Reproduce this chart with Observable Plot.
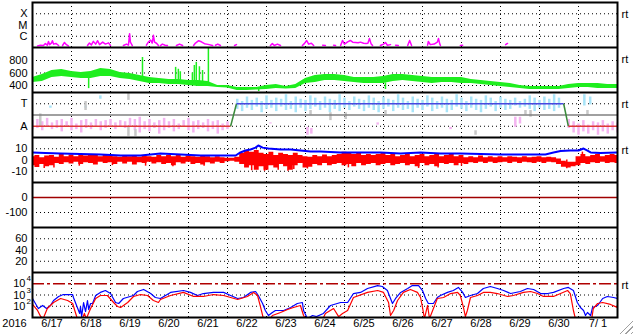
<!DOCTYPE html>
<html><head><meta charset="utf-8">
<script src="https://cdn.jsdelivr.net/npm/d3@7"></script>
<script src="https://cdn.jsdelivr.net/npm/@observablehq/plot@0.6"></script>
<style>
body{margin:0;background:#fff;}
#chart{position:relative;width:633px;height:334px;overflow:hidden;background:#fff;}
#chart svg{display:block;}
#grip{position:absolute;right:0;bottom:0;width:14px;height:14px;background:repeating-linear-gradient(135deg,transparent 0 2px,#a0a0a0 2px 3px,transparent 3px 4px);clip-path:polygon(100% 0,100% 100%,0 100%);}
</style></head><body><div id="chart"><div id="grip"></div></div>
<script>
// ---- time axis (days since 2016-06-17 00:00 UT) ----
const dayTickLabels = ["6/17","6/18","6/19","6/20","6/21","6/22","6/23","6/24","6/25","6/26","6/27","6/28","6/29","6/30","7/ 1"];
const yearLabel = "2016";
const gridDays = [1,2,3,4,5,6,7,8,9,10,11,12,13,14];

// ---- panel 1: X-ray flux (W/m2), segments with data gaps ----
const xrayLabels = [[1e-4,"X"],[1e-5,"M"],[1e-6,"C"]];
const xraySegments = [
 [[0.13,1.4e-7],[0.2,1.6e-7],[0.28,1.5e-7],[0.33,2.2e-7],[0.38,1.6e-7],[0.41,3.4e-7],[0.44,1.8e-7],[0.49,2.6e-7],[0.51,4e-7],[0.54,2e-7],[0.6,2.3e-7],[0.67,1.5e-7]],
 [[0.77,1.5e-7],[0.82,2.8e-7],[0.87,1.8e-7],[0.92,1.4e-7]],
 [[1.41,1.5e-7],[1.46,2.5e-7],[1.51,1.7e-7],[1.56,3.5e-7],[1.62,2e-7],[1.67,4e-7],[1.72,1.8e-7],[1.8,3e-7],[1.87,2e-7],[1.95,2.6e-7],[2.0,1.5e-7]],
 [[2.33,1.5e-7],[2.41,2e-7],[2.46,1.6e-7],[2.49,1.7e-6],[2.51,3e-7],[2.56,1.5e-7]],
 [[2.92,1.6e-7],[2.97,3e-7],[3.03,4.5e-7],[3.07,2.5e-7],[3.1,1.2e-6],[3.13,3e-7],[3.18,2.4e-7],[3.23,1.5e-7]],
 [[3.28,1.5e-7],[3.33,2e-7],[3.4,1.6e-7],[3.46,1.5e-7]],
 [[3.69,1.5e-7],[3.77,2e-7],[3.85,1.5e-7]],
 [[4.13,1.5e-7],[4.18,2.5e-7],[4.26,4e-7],[4.33,3.2e-7],[4.41,2.2e-7],[4.5,1.9e-7],[4.62,1.5e-7]],
 [[4.69,1.6e-7],[4.75,2e-7],[4.82,1.5e-7]],
 [[5.18,1.5e-7],[5.23,1.8e-7]],
 [[6.1,1.5e-7],[6.15,2.2e-7],[6.2,1.5e-7],[6.28,2e-7],[6.36,1.5e-7]],
 [[6.92,1.5e-7],[6.97,2.2e-7],[7.03,4.2e-7],[7.08,2e-7],[7.15,2.4e-7],[7.21,1.5e-7]],
 [[7.44,1.6e-7],[7.51,1.5e-7]],
 [[7.72,1.6e-7],[7.77,1.5e-7]],
 [[7.9,1.5e-7],[7.95,4.2e-7],[8.0,2e-7],[8.08,3.2e-7],[8.15,4.2e-7],[8.21,3e-7],[8.28,2.8e-7],[8.35,2.6e-7],[8.41,3e-7],[8.49,2.4e-7],[8.55,2.3e-7],[8.6,2.4e-7],[8.64,6.3e-7],[8.68,2.2e-7],[8.72,1.5e-7]],
 [[8.92,1.5e-7],[9.0,2e-7],[9.05,2.8e-7],[9.1,1.6e-7],[9.18,1.8e-7]],
 [[9.31,1.6e-7],[9.38,1.5e-7]],
 [[9.62,1.5e-7],[9.67,4.2e-7],[9.72,1.5e-7]],
 [[10.13,1.6e-7],[10.15,3.4e-7],[10.2,1.8e-7],[10.3,2e-7],[10.38,3e-7],[10.41,6.3e-7],[10.44,2.2e-7],[10.46,1.5e-7]],
 [[10.97,1.5e-7],[11.03,1.6e-7]],
 [[12.13,1.8e-7],[12.18,2.3e-7]]
];

// ---- panel 2: solar wind speed (km/s): band [day, low, high] and spikes [day, from, to] ----
const speedLabels = [[800,"800"],[600,"600"],[400,"400"]];
const speedBand = [[0,448,528],[0.25,464,576],[0.5,528,640],[0.75,544,656],[1,528,624],[1.25,512,608],[1.5,512,624],[1.75,544,672],[2,544,656],[2.25,512,608],[2.5,496,592],[2.75,464,560],[3,432,528],[3.25,432,512],[3.5,416,496],[3.75,416,496],[4,400,480],[4.25,384,480],[4.5,384,464],[4.75,368,400],[5,360,400],[5.25,320,368],[5.5,320,368],[5.75,328,368],[6,336,400],[6.25,352,416],[6.5,344,384],[6.75,352,416],[7,432,512],[7.25,448,560],[7.5,480,576],[7.75,480,576],[8,464,560],[8.25,448,528],[8.5,432,528],[8.75,432,528],[9,432,544],[9.25,464,576],[9.5,480,576],[9.75,464,560],[10,448,544],[10.25,432,528],[10.5,448,528],[10.75,448,528],[11,432,528],[11.25,432,496],[11.5,416,480],[11.75,400,464],[12,384,448],[12.25,368,432],[12.5,352,400],[12.75,336,384],[13,336,384],[13.25,336,384],[13.5,336,384],[13.75,352,416],[14,368,432],[14.25,368,432],[14.5,352,432],[14.75,352,416],[15,352,416]];
const speedSpikes = [[1.44,560,350],[2.82,520,848],[3.67,460,690],[3.74,450,660],[3.79,450,620],[4.10,440,600],[4.15,440,720],[4.2,430,770],[4.28,430,700],[4.36,420,640],[4.51,420,992],[5.8,340,304],[9.05,440,336]];

// ---- panel 3: IMF sector (T = +1, A = -1) ----
const sectorLabels = [[1,"T"],[-1,"A"]];
const sectorTimes = [0, 5.08, 5.23, 13.62, 13.74, 15];
const sectorValues = [-1, -1, 1, 1, -1, -1];
const pinkTicks = [[0,-1.3,-0.5],[0.125,-1.2,-0.4],[0.25,-1.4,-0.6],[0.375,-1.1,-0.3],[0.5,-1.3,-0.7],[0.625,-1.2,-0.5],[0.75,-1.5,-0.4],[0.875,-1.1,-0.6],[1,-1.4,-0.3],[1.125,-1.3,-0.8],[1.25,-1.6,-0.5],[1.375,-1.2,-0.4],[1.5,-1.3,-0.7],[1.625,-1.1,-0.4],[1.75,-1.4,-0.6],[1.875,-1.2,-0.5],[2,-1.0,-0.4],[2.125,-1.3,-0.7],[2.25,-1.1,-0.5],[2.375,-1.2,-0.6],[2.5,-1.0,-0.3],[2.625,-1.4,-0.4],[2.75,-1.6,-0.2],[2.875,-1.3,-0.6],[3,-1.5,-0.4],[3.125,-1.2,-0.7],[3.25,-1.7,-0.5],[3.375,-1.4,-0.3],[3.5,-1.2,-0.6],[3.625,-1.5,-0.4],[3.75,-1.3,-0.8],[3.875,-1.1,-0.5],[4,-1.4,-0.3],[4.125,-1.6,-0.6],[4.25,-1.3,-0.5],[4.375,-1.2,-0.7],[4.5,-1.5,-0.4],[4.625,-1.3,-0.6],[4.75,-1.7,-0.5],[4.875,-1.4,-0.8],[5,-1.3,-0.6],
 [6.1,-0.8,-0.7],[7.05,-1.8,-1.1],[7.15,-1.7,-1.2],[8.85,-0.9,-0.7],[10.72,-1.3,-1.1],[12.38,-1.1,-0.2],[12.5,-0.8,-0.2],
 [13.75,-1.2,-0.4],[13.875,-1.6,-0.6],[14,-1.8,-0.8],[14.125,-1.5,-0.5],[14.25,-1.7,-0.9],[14.375,-1.4,-0.6],[14.5,-1.8,-0.7],[14.625,-1.5,-0.5],[14.75,-1.7,-0.8],[14.875,-1.4,-0.6],[15,-1.6,-0.7]];
const cyanTicks = [[0.46,0.6,0.8],[1.36,0.6,0.8],[1.74,1.4,1.7],
 [5.25,0.5,1.4],[5.375,0.3,1.2],[5.5,0.6,1.6],[5.625,0.4,1.3],[5.75,0.7,1.5],[5.875,0.2,1.2],[6,0.5,1.7],[6.125,0.6,1.3],[6.25,0.3,1.5],[6.375,0.7,1.4],[6.5,0.4,1.8],[6.625,0.5,1.2],[6.75,0.2,1.6],[6.875,0.6,1.4],[7,0.3,1.3],[7.125,0.5,1.7],[7.25,0.7,1.5],[7.375,0.4,1.2],[7.5,0.6,1.6],[7.625,0.2,1.4],[7.75,0.5,1.3],[7.875,0.3,1.8],[8,0.6,1.5],[8.125,0.4,1.2],[8.25,0.7,1.6],[8.375,0.5,1.4],[8.5,0.3,1.3],[8.625,0.6,1.7],[8.75,0.4,1.5],[8.875,0.2,1.2],[9,0.5,1.6],[9.125,0.7,1.4],[9.25,0.3,1.3],[9.375,0.6,1.8],[9.5,0.4,1.5],[9.625,0.5,1.2],[9.75,0.2,1.6],[9.875,0.6,1.4],[10,0.4,1.3],[10.125,0.7,1.7],[10.25,0.3,1.5],[10.375,0.5,1.2],[10.5,0.6,1.6],[10.625,0.2,1.4],[10.75,0.4,1.3],[10.875,0.7,1.8],[11,0.5,1.5],[11.125,0.3,1.2],[11.25,0.6,1.6],[11.375,0.4,1.4],[11.5,0.2,1.3],[11.625,0.5,1.7],[11.75,0.7,1.5],[11.875,0.3,1.2],[12,0.6,1.6],[12.125,0.4,1.4],[12.25,0.5,1.3],[12.375,0.8,1.5],[12.5,0.6,1.2],[12.625,0.7,1.4],[12.75,0.5,1.7],[12.875,0.3,1.5],[13,0.6,1.3],[13.125,0.4,1.6],[13.25,0.5,1.4],[13.375,0.3,1.8],[13.5,0.6,1.5],
 [14.15,0.8,1.8],[14.3,0.9,1.6]];
const grayTicks = [[0.2,-1.1,0.1],[1.36,0.4,1.2],[2.46,1.3,1.9],[2.46,-1.9,-1.1],[2.64,-1.9,-1.3],[7.13,0,0.4],[7.64,-0.5,0.2],[8.03,-0.4,0.2],[9.05,0,0.4],[11.36,-1.8,-1.4],[12.64,0,0.4],[12.77,-0.2,0.4],[14.23,0,0.4]];

// ---- panel 4: IMF Bt (line) and Bz ([day, low, high]) in nT ----
const magLabels = [[10,"10"],[0,"0"],[-10,"-10"]];
const btSeries = [[0,6.7],[0.33,6.2],[0.72,5.8],[1.23,5.3],[1.74,4.9],[2.26,4.0],[2.77,4.0],[3.03,4.9],[3.28,5.8],[3.8,4.9],[4.31,4.0],[4.82,4.0],[5.21,4.0],[5.33,6.7],[5.46,8.4],[5.59,9.3],[5.72,11],[5.79,12.9],[5.9,11],[6.05,10.2],[6.36,9.3],[6.62,9.3],[6.87,8.4],[7.13,7.6],[7.38,7.6],[7.9,6.7],[8.41,6.7],[8.92,6.7],[9.44,5.8],[9.95,6.7],[10.46,5.8],[10.97,5.8],[11.49,5.3],[12.0,4.9],[12.51,4.9],[13.15,4.9],[13.36,6.7],[13.54,8.0],[13.79,8.4],[14.0,8.4],[14.13,10.2],[14.23,8.4],[14.31,6.7],[14.56,6.2],[15,6.7]];
const bzBand = [[0,-5,3],[0.125,-6.7,4],[0.25,-4,2],[0.375,-6,3.5],[0.5,-5,4],[0.625,-3,2.5],[0.75,-4,5],[0.875,-2.5,3],[1,-3.5,4.5],[1.125,-2,3],[1.25,-4,5],[1.375,-2.5,3.5],[1.5,-3,4],[1.625,-4.5,5],[1.75,-2,3],[1.875,-3,4],[2,-2.5,3.5],[2.125,-4,3],[2.25,-2,2.5],[2.375,-3.5,4],[2.5,-2,3],[2.625,-4.5,3.5],[2.75,-2.5,2.5],[2.875,-3,4],[3,-2,3],[3.125,-3.5,2.5],[3.25,-2.5,4],[3.375,-4,3],[3.5,-3,4],[3.625,-5,3],[3.75,-2.5,4],[3.875,-3.5,2.5],[4,-2,3.5],[4.125,-4,3],[4.25,-3,2.5],[4.375,-4.5,4],[4.5,-2.5,3],[4.625,-3.5,2],[4.75,-2,3],[4.875,-3,2],[5,-1.5,1.5],[5.125,-1,1.5],[5.25,-2,2.5],[5.375,-4,6],[5.5,-7,8],[5.625,-5,7],[5.75,-9,8.5],[5.875,-6,6],[6,-9,5],[6.125,-5,7],[6.25,-7,4],[6.375,-4,6],[6.5,-6,5],[6.625,-9,4],[6.75,-5,6],[6.875,-3,4],[7,-7,3],[7.125,-6.5,2.5],[7.25,-4,4],[7.375,-5,3],[7.5,-3,4.5],[7.625,-5,3],[7.75,-4,4],[7.875,-3,5],[8,-5,7],[8.125,-4,6],[8.25,-6,5],[8.375,-3,6],[8.5,-5,4],[8.625,-4,5],[8.75,-3,4],[8.875,-5,5],[9,-4,6],[9.125,-3,4],[9.25,-5,5],[9.375,-4,3],[9.5,-3,4],[9.625,-5,5],[9.75,-4,3],[9.875,-6,4],[10,-3,5],[10.125,-5,3],[10.25,-4,4],[10.375,-6,5],[10.5,-3,3],[10.625,-4,4],[10.75,-3,5],[10.875,-5,3],[11,-3,4],[11.125,-4,2],[11.25,-2.5,3],[11.375,-3,2],[11.5,-2,3.5],[11.625,-3,2],[11.75,-2,3],[11.875,-3,2],[12,-2.5,3],[12.125,-2,2],[12.25,-3,3],[12.375,-2,2.5],[12.5,-3,2],[12.625,-2,3],[12.75,-2.5,2],[12.875,-3,2.5],[13,-2,3],[13.125,-3,2],[13.25,-2,2.5],[13.375,-2.5,2],[13.5,-4,1],[13.625,-6.5,-1],[13.75,-7,-2],[13.875,-6,-2],[14,-5,3],[14.125,-3,5],[14.25,-4,3],[14.375,-2.5,4],[14.5,-3,5],[14.625,-2,3],[14.75,-3,4],[14.875,-2.5,5],[15,-3,4]];
const bzSpikes = [[0.3,-7.6,0],[0.55,-7,0],[1.2,-5.5,0],[2.05,-5,0],[2.9,-5.5,0],[3.6,-6,0],[4.4,-5.5,0],[5.62,-9.5,0],[5.95,-10,0],[6.3,-9,0],[6.55,-10,0],[6.7,-8.5,0],[7.05,-8,0],[8.1,-7,0],[9.9,-7.5,0],[10.4,-7,0],[11.0,-5.5,0],[13.7,-7.8,0],[14.1,0,7]];

// ---- panel 5 / 6 ----
const dstLabels = [[0,"0"],[-100,"-100"]];
const dstLevel = [0];
const kpLabels = [[60,"60"],[40,"40"],[20,"20"]];

// ---- panel 7: electron flux (log) ----
const fluxLabels = [1e4, 1e3, 1e2];
const fluxAlert = [1e4];
const elecHigh = [[0,490],[0.15,63],[0.26,117],[0.36,63],[0.46,117],[0.54,325],[0.67,740],[0.79,1100],[0.9,1100],[1.03,1100],[1.05,600],[1.15,78],[1.21,23],[1.23,95],[1.26,12],[1.31,215],[1.36,34],[1.41,325],[1.44,51],[1.49,175],[1.54,175],[1.62,900],[1.74,1700],[1.87,2500],[2.0,1350],[2.13,215],[2.21,175],[2.33,490],[2.59,900],[2.69,2050],[2.85,3100],[3.03,1350],[3.15,600],[3.28,490],[3.54,1700],[3.87,2500],[4.05,1700],[4.23,900],[4.38,1350],[4.64,1700],[4.9,1700],[5.08,900],[5.26,490],[5.41,600],[5.59,1700],[5.72,2050],[5.79,900],[5.9,175],[5.97,42],[6.05,15],[6.15,28],[6.23,42],[6.44,42],[6.62,78],[6.79,175],[6.92,215],[6.95,42],[7.05,8],[7.18,15],[7.28,12],[7.46,23],[7.64,117],[7.9,215],[8.08,215],[8.23,1350],[8.41,1700],[8.59,3800],[8.85,6900],[8.97,5700],[9.1,2500],[9.23,175],[9.31,490],[9.44,1700],[9.62,3800],[9.74,6900],[9.9,6900],[10.0,2500],[10.08,490],[10.15,175],[10.28,175],[10.38,600],[10.46,900],[10.64,1700],[10.79,2500],[10.92,4700],[11.03,1700],[11.1,600],[11.23,900],[11.41,1350],[11.56,3800],[11.74,5700],[11.92,3800],[12.08,2500],[12.26,1350],[12.51,2050],[12.69,3800],[12.85,3100],[13.03,1350],[13.21,1350],[13.36,1700],[13.62,3800],[13.74,4700],[13.87,2500],[13.97,215],[14.05,78],[14.13,42],[14.18,15],[14.23,28],[14.31,15],[14.36,78],[14.49,117],[14.62,490],[14.74,740],[14.9,600],[15,490]];
const elecLow = [[0,145],[0.13,42],[0.21,12],[0.28,9],[0.38,63],[0.54,215],[0.72,490],[0.9,325],[1.03,175],[1.1,28],[1.15,8],[1.28,8],[1.33,23],[1.38,8],[1.49,63],[1.62,490],[1.74,900],[1.92,900],[2.08,215],[2.18,95],[2.26,78],[2.44,215],[2.59,740],[2.77,1100],[2.95,900],[3.1,325],[3.23,215],[3.28,400],[3.54,900],[3.87,1700],[4.13,740],[4.38,740],[4.64,1100],[4.9,900],[5.08,600],[5.26,400],[5.51,740],[5.67,1700],[5.77,900],[5.85,78],[5.92,8],[6.1,8],[6.15,15],[6.36,28],[6.54,51],[6.69,78],[6.87,117],[6.95,15],[7.0,8],[7.45,8],[7.51,23],[7.72,63],[7.85,12],[7.95,23],[8.08,42],[8.23,600],[8.59,1700],[8.85,2500],[9.0,1700],[9.13,215],[9.18,15],[9.26,42],[9.36,325],[9.51,1700],[9.69,3100],[9.87,1700],[9.95,600],[10.0,78],[10.05,8],[10.13,117],[10.18,8],[10.26,42],[10.38,490],[10.54,600],[10.72,1350],[10.9,1700],[10.97,900],[11.05,78],[11.1,12],[11.15,42],[11.23,600],[11.41,900],[11.56,1700],[11.74,1700],[11.92,1350],[12.18,740],[12.33,900],[12.59,1700],[12.77,2050],[12.95,1350],[13.1,740],[13.36,740],[13.54,1350],[13.72,2500],[13.79,1350],[13.87,42],[13.92,8],[14.34,8],[14.38,63],[14.49,175],[14.62,215],[14.82,145],[15,78]];

// ---------------- drawing ----------------
const T0 = Date.UTC(2016, 5, 17);
const toDate = d => new Date(T0 + d * 864e5);
const X0 = toDate(0), X1 = toDate(15);
const FONT = "'Liberation Sans', Arial, Helvetica, sans-serif";
const dot = {stroke: "black", strokeDasharray: "1,3", strokeWidth: 1};

function panel({height, marginTop = 0, marginBottom = 0, y, grid = [], labels = [], rt = false, rtDy = 8, marks = [], extra = []}) {
  return Plot.plot({
    width: 633, height, marginLeft: 32, marginRight: 16, marginTop, marginBottom,
    style: {fontFamily: FONT, fontSize: "11px", background: "white", color: "black"},
    x: {type: "utc", domain: [X0, X1], axis: null},
    y: {...y, axis: null},
    marks: [
      Plot.ruleX(gridDays, {x: d => toDate(d), ...dot}),
      Plot.ruleY(grid, {y: d => d, ...dot}),
      ...marks,
      Plot.frame({stroke: "black", strokeWidth: 2}),
      Plot.text(labels, {x: () => X0, y: d => d[0], text: d => d[1], textAnchor: "end", dx: -5, fontSize: 11}),
      rt ? Plot.text(["rt"], {frameAnchor: "top-right", textAnchor: "start", dx: 4, dy: rtDy, fontSize: 11}) : null,
      ...extra
    ]
  });
}

const chart = document.getElementById("chart");
const grip = document.getElementById("grip");

// 1: X-ray
const xrayRows = xraySegments.flatMap((seg, i) => seg.map(p => [p[0], p[1], i]));
chart.insertBefore(panel({
  height: 47, marginTop: 2,
  y: {type: "log", domain: [1e-7, 1e-3]},
  grid: [1e-4, 1e-5, 1e-6], labels: xrayLabels, rt: true,
  marks: [Plot.line(xrayRows, {x: d => toDate(d[0]), y: d => d[1], z: d => d[2], stroke: "#ff00ff", strokeWidth: 1.5, clip: true})]
}), grip);

// 2: solar wind speed
chart.insertBefore(panel({
  height: 45,
  y: {domain: [288, 1008]},
  grid: [400, 600, 800], labels: speedLabels, rt: true,
  marks: [
    Plot.areaY(speedBand, {x: d => toDate(d[0]), y1: d => d[1], y2: d => d[2], fill: "#1eee1e", clip: true}),
    Plot.ruleX(speedSpikes, {x: d => toDate(d[0]), y1: d => d[1], y2: d => d[2], stroke: "#1eee1e", strokeWidth: 1.5, clip: true})
  ]
}), grip);

// 3: sector
const sectorLinks = sectorTimes.slice(0, -1).map((t, i) => ({
  t1: t, v1: sectorValues[i], t2: sectorTimes[i + 1], v2: sectorValues[i + 1]
}));
const sectorColor = d => d.v1 !== d.v2 ? "#3a8a3a" : (d.v1 > 0 ? "#4848e0" : "#e03838");
const tick = (data, color) => Plot.ruleX(data, {x: d => toDate(d[0]), y1: d => d[1], y2: d => d[2], stroke: color, strokeWidth: 2.5, clip: true});
chart.insertBefore(panel({
  height: 45,
  y: {domain: [-2, 2]},
  grid: [1, -1], labels: sectorLabels, rt: true,
  marks: [
    tick(pinkTicks, "#f4b4f0"),
    tick(cyanTicks, "#a8e4f8"),
    tick(grayTicks, "#c8c8c8"),
    Plot.ruleY([0], {stroke: "#808080", strokeWidth: 1.5}),
    Plot.link(sectorLinks, {x1: d => toDate(d.t1), y1: d => d.v1, x2: d => toDate(d.t2), y2: d => d.v2, stroke: sectorColor, strokeWidth: 1.5, clip: true})
  ]
}), grip);

// 4: IMF
chart.insertBefore(panel({
  height: 45,
  y: {domain: [-20, 20]},
  grid: [10, -10], labels: magLabels, rt: true, rtDy: 9,
  marks: [
    Plot.areaY(bzBand, {x: d => toDate(d[0]), y1: d => d[1], y2: d => d[2], fill: "#ff0000", curve: "step", clip: true}),
    Plot.ruleX(bzSpikes, {x: d => toDate(d[0]), y1: d => d[1], y2: d => d[2], stroke: "#ff0000", strokeWidth: 1.5, clip: true}),
    Plot.line(btSeries, {x: d => toDate(d[0]), y: d => d[1], stroke: "#0000ff", strokeWidth: 2, clip: true})
  ]
}), grip);

// 5: Dst
chart.insertBefore(panel({
  height: 45,
  y: {domain: [-200, 100]},
  grid: [-100], labels: dstLabels,
  marks: [Plot.ruleY(dstLevel, {stroke: "#a00000", strokeWidth: 1.5})]
}), grip);

// 6
chart.insertBefore(panel({
  height: 45,
  y: {domain: [0, 80]},
  grid: [20, 40, 60], labels: kpLabels
}), grip);

// 7: electron flux + date axis
chart.insertBefore(panel({
  height: 62, marginBottom: 17,
  y: {type: "log", domain: [10, 1e5]},
  grid: [1e3, 1e2], rt: true, rtDy: 9,
  marks: [
    Plot.ruleY(fluxAlert, {stroke: "#b00000", strokeWidth: 1.5, strokeDasharray: "12,3,3,3"}),
    Plot.line(elecHigh, {x: d => toDate(d[0]), y: d => d[1], stroke: "#0000ff", strokeWidth: 1.2, clip: true}),
    Plot.line(elecLow, {x: d => toDate(d[0]), y: d => d[1], stroke: "#ff0000", strokeWidth: 1.2, clip: true})
  ],
  extra: [
    Plot.text(fluxLabels, {x: () => X0, y: d => d, text: () => "10", textAnchor: "end", dx: -7, fontSize: 11}),
    Plot.text(fluxLabels, {x: () => X0, y: d => d, text: d => String(Math.round(Math.log10(d))), textAnchor: "start", dx: -6, dy: -5, fontSize: 8}),
    Plot.text(dayTickLabels, {x: (d, i) => toDate(i + 0.5), frameAnchor: "bottom", dy: 9, fontSize: 11}),
    Plot.text([yearLabel], {x: () => X0, frameAnchor: "bottom", dy: 9, dx: -18, fontSize: 11})
  ]
}), grip);
</script>
</body></html>
